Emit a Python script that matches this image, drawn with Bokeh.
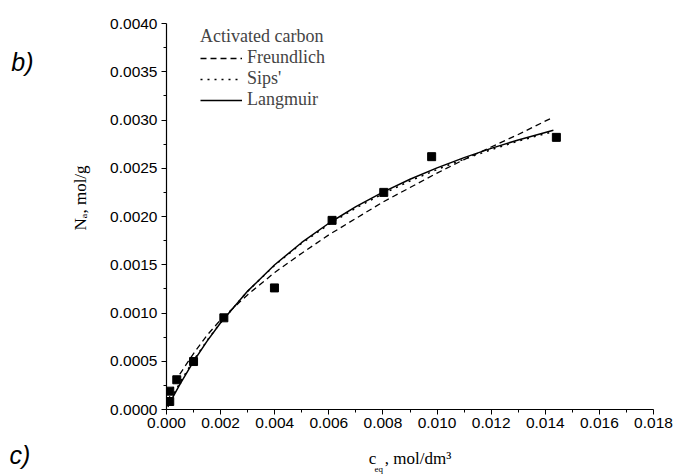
from bokeh.plotting import figure
from bokeh.models import (Range1d, FixedTicker, PrintfTickFormatter, Legend, LegendItem, Title,
                          LinearAxis)
from bokeh.embed import file_html
from bokeh.resources import INLINE

# Experimental points (Activated carbon)
c_eq = [0.00012, 0.00012, 0.00038, 0.00100, 0.00212, 0.00399, 0.00612, 0.00803, 0.00980, 0.01441]
N_a = [0.000083, 0.00019, 0.000308, 0.000497, 0.00095, 0.00126, 0.00196, 0.00225, 0.00262, 0.00282]

# Fitted curves
c_fit = [0.00005, 0.0002, 0.0005, 0.001, 0.0015, 0.002, 0.003, 0.004, 0.005, 0.006,
         0.007, 0.008, 0.009, 0.010, 0.011, 0.012, 0.013, 0.0143]
freundlich = [0.00008, 0.00020, 0.00037, 0.00058, 0.00077, 0.00093, 0.00119, 0.00142, 0.00162,
              0.00181, 0.00198, 0.00215, 0.00230, 0.00245, 0.00259, 0.00272, 0.00285, 0.00303]
sips = [0.00004, 0.000125, 0.00028, 0.00051, 0.000715, 0.000902, 0.001225, 0.001495, 0.001722,
        0.001918, 0.002088, 0.002236, 0.002368, 0.002487, 0.002594, 0.002692, 0.002782, 0.00288]
langmuir = [0.000028, 0.00011, 0.000264, 0.000499, 0.000709, 0.000899, 0.001227, 0.0015, 0.001731,
            0.00193, 0.002103, 0.002253, 0.002386, 0.002504, 0.00261, 0.002706, 0.002793, 0.002893]

x_ticks = [0.000, 0.002, 0.004, 0.006, 0.008, 0.010, 0.012, 0.014, 0.016, 0.018]
y_ticks = [0.0000, 0.0005, 0.0010, 0.0015, 0.0020, 0.0025, 0.0030, 0.0035, 0.0040]

X0, X1, Y0, Y1 = 0.0, 0.018, 0.0, 0.004

p = figure(width=674, height=475, x_range=Range1d(X0, X1), y_range=Range1d(Y0, Y1),
           output_backend="svg", toolbar_location=None,
           min_border_left=166, min_border_right=21, min_border_top=23, min_border_bottom=66)
p.outline_line_color = None
p.grid.visible = False
p.background_fill_color = "white"

x_minor = [(a + b) / 2 for a, b in zip(x_ticks[:-1], x_ticks[1:])]
y_minor = [(a + b) / 2 for a, b in zip(y_ticks[:-1], y_ticks[1:])]
p.xaxis.ticker = FixedTicker(ticks=x_ticks, minor_ticks=x_minor)
p.yaxis.ticker = FixedTicker(ticks=y_ticks, minor_ticks=y_minor)
p.xaxis.formatter = PrintfTickFormatter(format="%.3f")
p.yaxis.formatter = PrintfTickFormatter(format="%.4f")

for ax in (p.xaxis, p.yaxis):
    ax.axis_line_color = "black"
    ax.axis_line_width = 1.2
    ax.major_tick_line_color = "black"
    ax.minor_tick_line_color = "black"
    ax.major_tick_out = 5
    ax.major_tick_in = 0
    ax.minor_tick_out = 3
    ax.minor_tick_in = 0
    ax.major_label_text_font = "Liberation Sans"
    ax.major_label_text_font_size = "15.5px"
    ax.major_label_text_color = "black"
p.xaxis.major_label_standoff = 3
p.yaxis.major_label_standoff = 4

# x-axis title (main part), centred under the frame
p.xaxis.axis_label = "c\u00a0\u00a0, mol/dm\u00b3"
p.xaxis.axis_label_text_font = "Liberation Serif"
p.xaxis.axis_label_text_font_size = "17px"
p.xaxis.axis_label_text_font_style = "normal"
p.xaxis.axis_label_text_color = "black"
p.xaxis.axis_label_standoff = 18

r_f = p.line(c_fit, freundlich, line_color="black", line_width=1.3, line_dash="6 4")
r_s = p.line(c_fit, sips, line_color="black", line_width=1.5, line_dash="2 5")
r_l = p.line(c_fit, langmuir, line_color="black", line_width=1.5)
p.scatter(c_eq, N_a, marker="square", size=8, fill_color="black", line_color="black")

legend = Legend(items=[LegendItem(label="Freundlich", renderers=[r_f]),
                       LegendItem(label="Sips'", renderers=[r_s]),
                       LegendItem(label="Langmuir", renderers=[r_l])],
                title="Activated carbon", location=(34, 299), padding=0, margin=0,
                glyph_width=42, glyph_height=20, label_height=20, spacing=0,
                label_standoff=5, title_standoff=0,
                border_line_alpha=0, background_fill_alpha=0,
                title_text_font="Liberation Serif", title_text_font_size="18px",
                title_text_font_style="normal",
                label_text_font="Liberation Serif", label_text_font_size="18px")
p.add_layout(legend)

serif = dict(text_font="Liberation Serif", text_font_style="normal", text_color="black")

# y-axis title: N_a, mol/g
p.add_layout(Title(text="N\u2090, mol/g", align="left", offset=179, standoff=36,
                   vertical_align="bottom", text_font_size="17px", **serif), "left")

# panel letter "b)" placed with a bare label-only axis at the far left
b_axis = LinearAxis(ticker=FixedTicker(ticks=[0.00360], minor_ticks=[]),
                    formatter=PrintfTickFormatter(format="b)"),
                    axis_line_color=None, major_tick_line_color=None, minor_tick_line_color=None,
                    major_tick_out=0, major_tick_in=0, minor_tick_out=0, minor_tick_in=0,
                    major_label_standoff=17, major_label_text_font="Liberation Sans",
                    major_label_text_font_style="italic", major_label_text_font_size="25px",
                    major_label_text_color="black")
p.add_layout(b_axis, "left")

# subscript of the x-axis title
p.add_layout(Title(text="eq", align="left", offset=208, standoff=-14,
                   vertical_align="top", text_font_size="9px", **serif), "below")

# panel letter "c)"
p.add_layout(Title(text="c)", align="left", offset=-157, standoff=-60,
                   vertical_align="top", text_font="Liberation Sans", text_font_style="italic",
                   text_font_size="25px", text_color="black"), "below")

open("out.html", "w").write(file_html(p, INLINE))
